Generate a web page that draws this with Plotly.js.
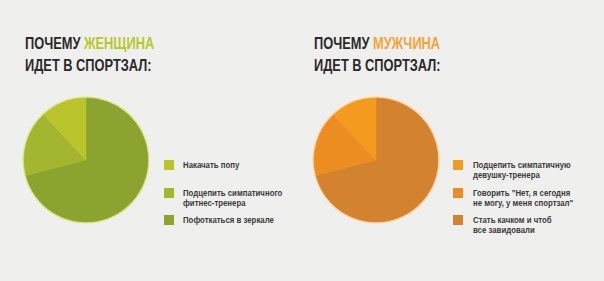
<!DOCTYPE html>
<html>
<head>
<meta charset="utf-8">
<script src="https://cdn.plot.ly/plotly-3.0.1.min.js"></script>
<style>html,body{margin:0;padding:0;background:#efefed;}#chart{width:604px;height:281px;}</style>
</head>
<body>
<div id="chart"></div>
<script>
// ---- data ----
const womenLabels = ["Накачать попу", "Подцепить симпатичного<br>фитнес-тренера", "Пофоткаться в зеркале"];
const womenValues = [12, 17, 71];
const womenColors = ["#bac52b", "#a4b52f", "#8ba32f"];

const menLabels = ["Подцепить симпатичную<br>девушку-тренера", "Говорить \"Нет, я сегодня<br>не могу, у меня спортзал\"", "Стать качком и чтоб<br>все завидовали"];
const menValues = [12, 17, 71];
const menColors = ["#f49b1f", "#ec8d22", "#d3822f"];

const titleWomen = ["ПОЧЕМУ ", "ЖЕНЩИНА", "ИДЕТ В СПОРТЗАЛ:"];
const titleMen = ["ПОЧЕМУ ", "МУЖЧИНА", "ИДЕТ В СПОРТЗАЛ:"];

// ---- layout helpers ----
const W = 604, H = 281;
const px = x => x / W;
const py = y => 1 - y / H;

function pieDomain(cx, cy, r) {
  return {x: [px(cx - r), px(cx + r)], y: [py(cy + r), py(cy - r)]};
}

const womenCenter = [86, 160], menCenter = [376, 160], R = 62;

const traces = [];
function addPie(labels, values, colors, center, outline) {
  traces.push({
    type: "pie", values: [1], labels: ["_"], sort: false,
    marker: {colors: [outline], line: {width: 0}},
    textinfo: "none", hoverinfo: "skip", showlegend: false,
    domain: pieDomain(center[0], center[1], R + 1.5)
  });
  // drawn clockwise from 12 o'clock in reverse legend order
  const rl = labels.slice().reverse(), rv = values.slice().reverse(), rc = colors.slice().reverse();
  traces.push({
    type: "pie", values: rv, labels: rl, sort: false,
    direction: "clockwise", rotation: 0,
    marker: {colors: rc, line: {color: rc, width: 0.5}},
    textinfo: "none", showlegend: false,
    domain: pieDomain(center[0], center[1], R)
  });
}
addPie(womenLabels, womenValues, womenColors, womenCenter, "#dde58a");
addPie(menLabels, menValues, menColors, menCenter, "#fbd3a0");

const annotations = [];
const scales = [];
const shapes = [];
const titleFont = {family: "Liberation Sans, Arial, sans-serif", size: 17, color: "#2a2a2a"};

function addTitle(parts, accent, x) {
  annotations.push({
    xref: "paper", yref: "paper", x: px(x), y: py(32),
    xanchor: "left", yanchor: "top", align: "left", showarrow: false,
    text: "<b>" + parts[0] + "<span style=\"color:" + accent + "\">" + parts[1] + "</span><br>" + parts[2] + "</b>",
    font: titleFont
  });
  scales.push(0.755);
}
addTitle(titleWomen, "#b9c82b", 23);
addTitle(titleMen, "#f3a43b", 312);

const itemY = [165, 193, 220];
const lineGap = 10;
function addLegend(labels, colors, sqX, textX) {
  labels.forEach((lab, i) => {
    const cy = itemY[i];
    shapes.push({
      type: "rect", xref: "paper", yref: "paper",
      x0: px(sqX), x1: px(sqX + 10), y0: py(cy + 5), y1: py(cy - 5),
      fillcolor: colors[i], line: {width: 0}
    });
    lab.split("<br>").forEach((line, j) => {
      annotations.push({
        xref: "paper", yref: "paper", x: px(textX), y: py(cy + j * lineGap),
        xanchor: "left", yanchor: "middle", align: "left", showarrow: false,
        text: "<b>" + line + "</b>",
        font: {family: "Liberation Sans, Arial, sans-serif", size: 9, color: "#3a3a3a"}
      });
      scales.push(0.87);
    });
  });
}
addLegend(womenLabels, womenColors, 164, 181);
addLegend(menLabels, menColors, 453, 471);

Plotly.newPlot("chart", traces, {
  width: W, height: H,
  margin: {l: 0, r: 0, t: 0, b: 0},
  paper_bgcolor: "#efefed", plot_bgcolor: "#efefed",
  showlegend: false,
  annotations: annotations, shapes: shapes
}, {staticPlot: true}).then(gd => {
  // condense annotation text horizontally (narrow typeface not installed)
  annotations.forEach((a, i) => {
    const t = gd.querySelector('.annotation[data-index="' + i + '"] text.annotation-text');
    if (!t) return;
    const bb = t.getBBox();
    const x0 = bb.x;
    t.setAttribute("transform", "translate(" + x0 + ",0) scale(" + scales[i] + ",1) translate(" + (-x0) + ",0)");
  });
});
</script>
</body>
</html>
